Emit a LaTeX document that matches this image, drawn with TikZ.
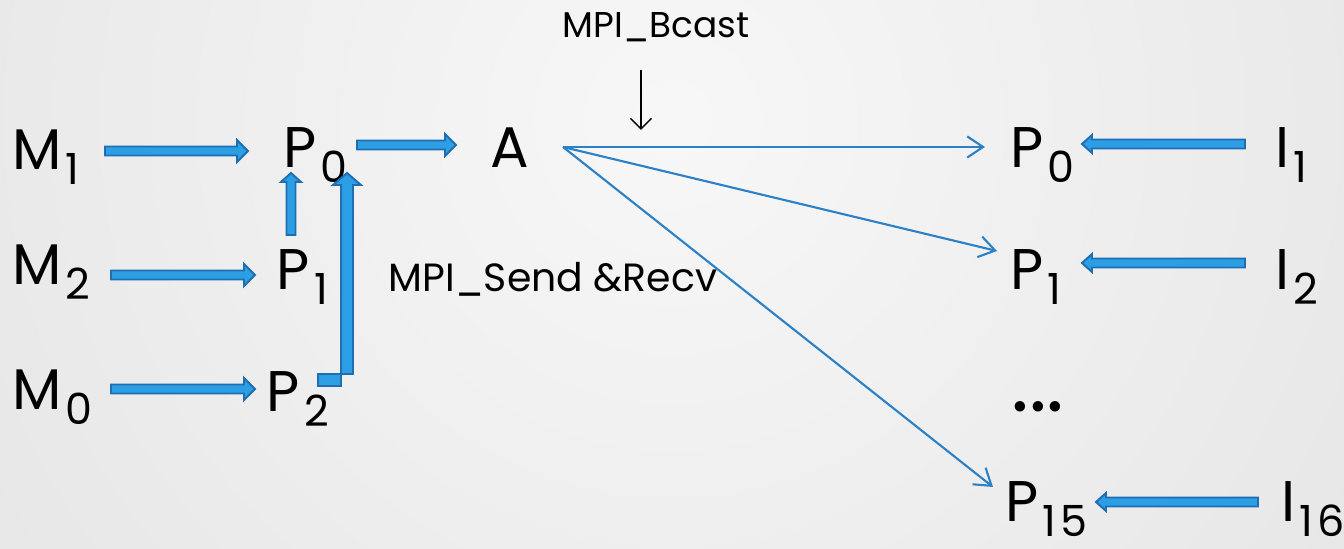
\documentclass[tikz,border=0pt]{standalone}
\usepackage{fontspec}
\setmainfont{Poppins}
\usetikzlibrary{calc,arrows.meta}
\definecolor{bfill}{RGB}{44,158,228}
\definecolor{bdraw}{RGB}{31,110,178}
\definecolor{fanblue}{RGB}{44,128,198}
\newcommand\idx[2]{#1\kern1.3pt\raisebox{-0.25em}{\fontsize{12.2}{12}\selectfont #2}}
% block arrow: #1 from, #2 to, #3 shaft half width, #4 head half width, #5 head length
\newcommand\blockarrow[5]{%
  \path[barrow] let \p1=(#1), \p2=(#2), \n1={veclen(\x2-\x1,\y2-\y1)}, \n2={atan2(\y2-\y1,\x2-\x1)} in
   [shift={(\p1)}, rotate=\n2]
   (0pt,-#3) -- (\n1-#5,-#3) -- (\n1-#5,-#4) -- (\n1,0pt) -- (\n1-#5,#4) -- (\n1-#5,#3) -- (0pt,#3) -- cycle;}
\tikzset{
  lbl/.style={inner sep=0pt, outer sep=0pt, anchor=base west, font=\fontsize{16.3}{19}\selectfont},
  small/.style={inner sep=0pt, anchor=base, font=\fontsize{12}{14}\selectfont},
  barrow/.style={fill=bfill, draw=bdraw, line width=0.55pt, line join=miter},
  fan/.style={draw=fanblue, line width=0.6pt, -{Straight Barb[length=4.5pt,width=6pt]}},
}
\begin{document}
\begin{tikzpicture}[x=0.01cm, y=-0.01cm]
\useasboundingbox (0,0) rectangle (1344,549);
\begin{scope}
\clip (0,0) rectangle (1344,549);
\fill[gray!30] (0,0) rectangle (1344,549);
\shade[inner color=gray!6, outer color=gray!32] (672,120) circle (16cm);
\end{scope}

% left nodes
\node[lbl] (M1) at (12,170) {\idx{M}{1}};
\node[lbl] (M2) at (12,285) {\idx{M}{2}};
\node[lbl] (M0) at (12,410) {\idx{M}{0}};
\node[lbl] (PL0) at (283,168) {\idx{P}{0}};
\node[lbl] (PL1) at (277,290) {\idx{P}{1}};
\node[lbl] (PL2) at (267,412) {\idx{P}{2}};
\node[lbl] (A) at (490,168) {A};
% right nodes
\node[lbl] (PR0) at (1010,168) {\idx{P}{0}};
\node[lbl] (PR1) at (1010,290) {\idx{P}{1}};
\node[lbl, anchor=base, font=\fontsize{24}{28}\selectfont] (dots) at (1038,412) {...};
\node[lbl] (PR15) at (1005,522) {\idx{P}{1\kern1.2pt 5}};
\node[lbl] (I1) at (1275,168) {\idx{I}{1}};
\node[lbl] (I2) at (1275,290) {\idx{I}{2}};
\node[lbl] (I16) at (1281,522) {\idx{I}{1\kern1.2pt 6}};
% labels
\node[small, font=\fontsize{10.2}{12}\selectfont] (bcast) at (656,38) {MPI\_Bcast};
\node[small, anchor=base west, font=\fontsize{11.2}{14}\selectfont] (sendrecv) at (388,292) {MPI\_Send \&Recv};

% coordinates for block arrows
\coordinate (a1s) at (105,151); \coordinate (a1e) at (248,151);
\coordinate (a2s) at (111,275); \coordinate (a2e) at (255,275);
\coordinate (a3s) at (111,389); \coordinate (a3e) at (255,389);
\coordinate (a4s) at (291,235); \coordinate (a4e) at (291,173);
\coordinate (a5s) at (357,145); \coordinate (a5e) at (456,145);
\coordinate (b1s) at (1245,144); \coordinate (b1e) at (1082,144);
\coordinate (b2s) at (1245,263); \coordinate (b2e) at (1082,263);
\coordinate (b3s) at (1258,502); \coordinate (b3e) at (1096,502);

\blockarrow{a1s}{a1e}{0.045cm}{0.11cm}{0.11cm}
\blockarrow{a2s}{a2e}{0.045cm}{0.11cm}{0.11cm}
\blockarrow{a3s}{a3e}{0.045cm}{0.11cm}{0.11cm}
\blockarrow{a4s}{a4e}{0.045cm}{0.10cm}{0.09cm}
\blockarrow{a5s}{a5e}{0.045cm}{0.11cm}{0.11cm}
\blockarrow{b1s}{b1e}{0.045cm}{0.09cm}{0.10cm}
\blockarrow{b2s}{b2e}{0.045cm}{0.09cm}{0.10cm}
\blockarrow{b3s}{b3e}{0.045cm}{0.09cm}{0.10cm}

% L-shaped arrow from P2 up to P0
\coordinate (Ls) at (318,380);
\coordinate (Lt) at (347,173);
\path[barrow] let \p1=(Ls), \p2=(Lt) in
  (\x1,\y1+0.06cm) -- (\x2+0.06cm,\y1+0.06cm) -- (\x2+0.06cm,\y2-0.12cm) -- (\x2+0.14cm,\y2-0.12cm)
  -- (\x2,\y2) -- (\x2-0.14cm,\y2-0.12cm) -- (\x2-0.06cm,\y2-0.12cm) -- (\x2-0.06cm,\y1-0.06cm)
  -- (\x1,\y1-0.06cm) -- cycle;

% broadcast fan
\coordinate (F) at (563,147);
\coordinate (f0) at (985,147);
\coordinate (f1) at (997,251);
\coordinate (f15) at (993,487);
\draw[fan] (F) -- (f0);
\draw[fan] (F) -- (f1);
\draw[fan] (F) -- (f15);

% MPI_Bcast pointer
\coordinate (bt) at (641,70);
\coordinate (bb) at (641,130);
\draw[line width=0.45pt, -{Straight Barb[length=3pt,width=6pt]}] (bt) -- (bb);
\end{tikzpicture}
\end{document}
